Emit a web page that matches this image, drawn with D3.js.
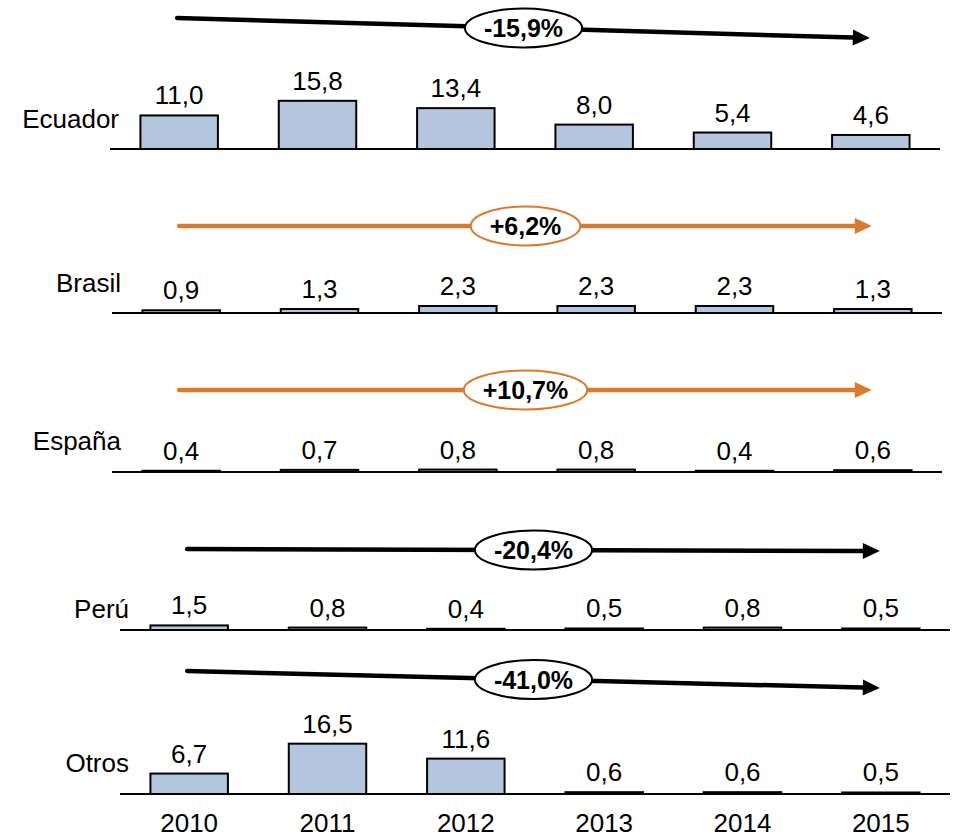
<!DOCTYPE html>
<html lang="es">
<head>
<meta charset="UTF-8">
<title>Evolución por país 2010-2015</title>
<style>
  body { margin: 0; background: #fff; }
  svg { display: block; font-family: "Liberation Sans", Arial, sans-serif; }
  .bar { fill: #b3c6de; stroke: #000; stroke-width: 2px; }
  .baseline { stroke: #000; stroke-width: 2px; }
  .val, .year, .country { font-size: 26px; fill: #000; }
  .rate { font-size: 25px; font-weight: bold; fill: #000; }
</style>
</head>
<body>
<svg width="953" height="838"></svg>
<script src="https://d3js.org/d3.v7.min.js"></script>
<script>
// data
const years = ["2010", "2011", "2012", "2013", "2014", "2015"];
const countries = ["Ecuador", "Brasil", "España", "Perú", "Otros"];
const ecuador = [11.0, 15.8, 13.4, 8.0, 5.4, 4.6];
const brasil  = [0.9, 1.3, 2.3, 2.3, 2.3, 1.3];
const espana  = [0.4, 0.7, 0.8, 0.8, 0.4, 0.6];
const peru    = [1.5, 0.8, 0.4, 0.5, 0.8, 0.5];
const otros   = [6.7, 16.5, 11.6, 0.6, 0.6, 0.5];
const growth  = [-15.9, 6.2, 10.7, -20.4, -41.0];

const series = [ecuador, brasil, espana, peru, otros];

// layout of each row (axis position, small horizontal shift, label and arrow offsets)
const rows = [
  { axisY: 149, dx: 0,  labelDy: -21, arrowY: [-131, -111] },
  { axisY: 313, dx: 2,  labelDy: -21, arrowY: [-87, -87] },
  { axisY: 472, dx: 2,  labelDy: -22, arrowY: [-82, -82] },
  { axisY: 630, dx: 10, labelDy: -12, arrowY: [-81, -79] },
  { axisY: 794, dx: 10, labelDy: -22, arrowY: [-123, -106] }
];

const locale = d3.formatLocale({ decimal: ",", thousands: ".", grouping: [3], currency: ["", "€"], minus: "-" });
const fmt = locale.format(".1f");
const fmtRate = locale.format("+.1f");

const svg = d3.select("svg");

const x = d3.scaleBand()
    .domain(years)
    .range([110, 940])
    .paddingInner(0.44)
    .paddingOuter(0.22);

// bar height in px per unit
const y = d3.scaleLinear().domain([0, 20]).range([0, 61]);

const orange = "#d97b2f";

series.forEach((vals, i) => {
  const r = rows[i];
  const g = svg.append("g")
      .attr("transform", `translate(${r.dx},${r.axisY})`);

  // bars
  g.selectAll("rect.bar")
    .data(vals)
    .join("rect")
      .attr("class", "bar")
      .attr("x", (d, j) => x(years[j]))
      .attr("y", d => -y(d))
      .attr("width", x.bandwidth())
      .attr("height", d => y(d));

  // value labels
  g.selectAll("text.val")
    .data(vals)
    .join("text")
      .attr("class", "val")
      .attr("x", (d, j) => x(years[j]) + x.bandwidth() / 2)
      .attr("y", d => -y(d) - 11)
      .attr("text-anchor", "middle")
      .text(d => fmt(d));

  // baseline
  g.append("line")
      .attr("class", "baseline")
      .attr("x1", x.range()[0])
      .attr("x2", x.range()[1]);

  // country label
  g.append("text")
      .attr("class", "country")
      .attr("x", 119)
      .attr("y", r.labelDy)
      .attr("text-anchor", "end")
      .text(countries[i]);

  // trend arrow
  const col = growth[i] >= 0 ? orange : "#000";
  const x1 = x(years[0]) + x.bandwidth() / 2 - 2;
  const x2 = x(years[years.length - 1]) + x.bandwidth() / 2 - 1;
  const y1 = r.arrowY[0], y2 = r.arrowY[1];
  const ang = Math.atan2(y2 - y1, x2 - x1);
  const headLen = 17, headW = 8;
  const bx = x2 - headLen * Math.cos(ang), by = y2 - headLen * Math.sin(ang);

  g.append("line")
      .attr("x1", x1).attr("y1", y1)
      .attr("x2", bx).attr("y2", by)
      .attr("stroke", col)
      .attr("stroke-width", 4.5)
      .attr("stroke-linecap", "round");

  g.append("path")
      .attr("d", d3.line()([
        [x2, y2],
        [bx - headW * Math.sin(ang), by + headW * Math.cos(ang)],
        [bx + headW * Math.sin(ang), by - headW * Math.cos(ang)]
      ]) + "Z")
      .attr("fill", col);

  // rate bubble
  const cx = (x1 + x2) / 2, cy = (y1 + y2) / 2;
  const ell = g.append("ellipse")
      .attr("cx", cx).attr("cy", cy)
      .attr("ry", 19.5)
      .attr("fill", "#fff")
      .attr("stroke", col)
      .attr("stroke-width", 2);

  const t = g.append("text")
      .attr("class", "rate")
      .attr("x", cx)
      .attr("y", cy + 9)
      .attr("text-anchor", "middle")
      .text(fmtRate(growth[i]) + "%");

  ell.attr("rx", t.node().getComputedTextLength() / 2 + 19);
});

// year labels under the last row
const last = rows[rows.length - 1];
svg.append("g")
    .attr("transform", `translate(${last.dx},${last.axisY})`)
  .selectAll("text.year")
  .data(years)
  .join("text")
    .attr("class", "year")
    .attr("x", d => x(d) + x.bandwidth() / 2)
    .attr("y", 38)
    .attr("text-anchor", "middle")
    .text(d => d);
</script>
</body>
</html>
